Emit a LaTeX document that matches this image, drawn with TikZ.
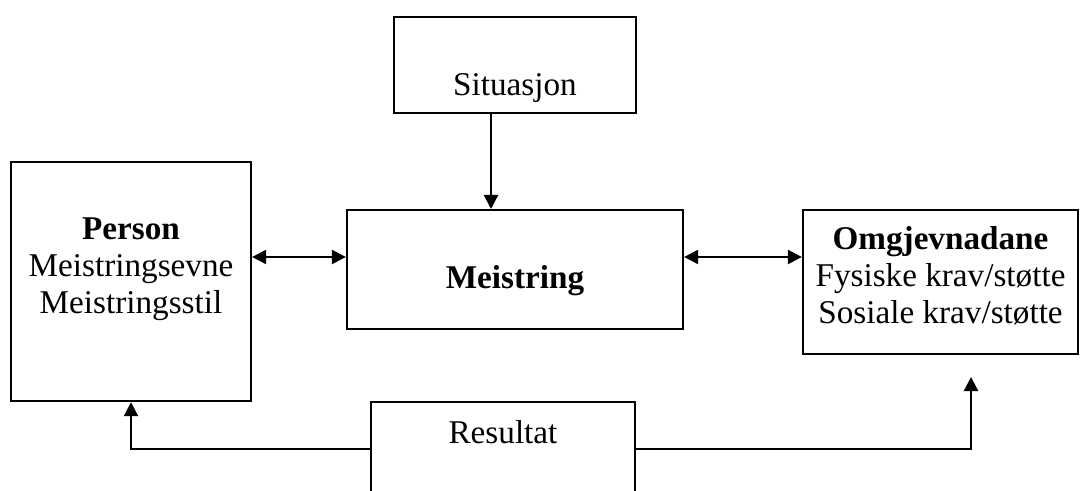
\documentclass[tikz,border=0pt]{standalone}
\usepackage{fontspec}
\setmainfont{Liberation Serif}
\usetikzlibrary{arrows.meta, positioning}
\tikzset{>={Triangle[length=7pt,width=7pt]}}
\tikzset{
  kasse/.style={draw, line width=1.1pt, inner sep=0pt, align=center,
    font=\fontsize{16.6}{18.5}\selectfont},
  pil/.style={line width=1.1pt}
}

\begin{document}
\begin{tikzpicture}[x=0.5pt, y=-0.5pt]

		\useasboundingbox (0,0) rectangle (1080,491);
		\clip (0,0) rectangle (1080,491);

		% boksane
		\node [kasse, anchor=north, minimum width=121pt, text height=39pt, text depth=9pt] (sit) at (515,16) {Situasjon};
		\node [kasse, anchor=north, minimum width=168pt, text height=39pt, text depth=20.5pt] (meis) at (515,209) {\textbf{Meistring}};
		\node [kasse, anchor=north, minimum width=120pt, text height=75.5pt, text depth=44pt] (pers) at (131,161) {\textbf{Person}\\Meistringsevne\\Meistringsstil};
		\node [kasse, anchor=north, minimum width=137.5pt, text height=56.5pt, text depth=15.5pt] (omg) at (940.5,209) {\textbf{Omgjevnadane}\\Fysiske krav/støtte\\Sosiale krav/støtte};
		\node [kasse, anchor=north, minimum width=132pt, text height=20.5pt, text depth=60pt] (res) at (503,401) {Resultat};

		\coordinate (midt) at (0,257);
		\coordinate (under) at (0,449);
		\coordinate (pilende) at (971,377);

		% pilene
		\draw [pil, ->] ([xshift=-12pt]sit.south) -- ([xshift=-12pt]meis.north);
		\draw [pil, <->] (pers.east |- midt) -- (meis.west |- midt);
		\draw [pil, <->] (meis.east |- midt) -- (omg.west |- midt);
		\draw [pil, ->] (res.west |- under) -| (pers.south);
		\draw [pil, ->] (res.east |- under) -| (pilende);

\end{tikzpicture}
\end{document}
